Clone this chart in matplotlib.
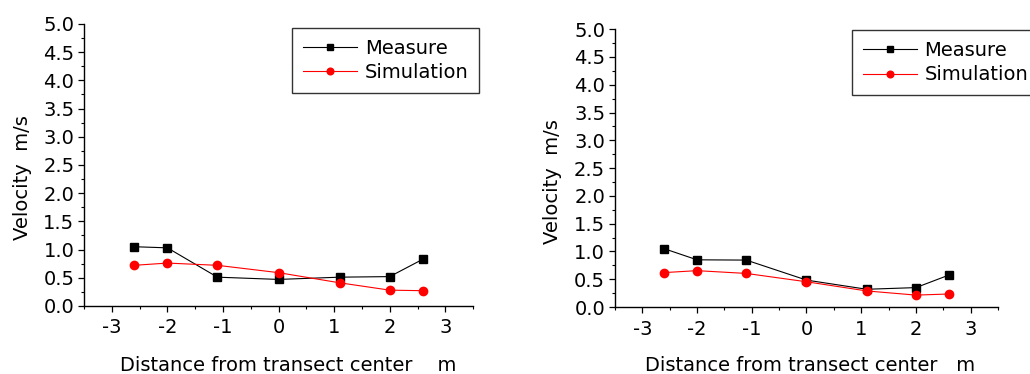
import matplotlib
matplotlib.use("Agg")
import matplotlib.pyplot as plt
from matplotlib.ticker import MultipleLocator, FormatStrFormatter

plt.rcParams['font.family'] = ['DejaVu Sans']

distance = [-2.6, -2.0, -1.1, 0.0, 1.1, 2.0, 2.6]
measure_left = [1.05, 1.03, 0.51, 0.47, 0.51, 0.52, 0.83]
simulation_left = [0.72, 0.76, 0.72, 0.59, 0.41, 0.28, 0.27]
measure_right = [1.05, 0.85, 0.845, 0.485, 0.32, 0.35, 0.575]
simulation_right = [0.62, 0.655, 0.605, 0.455, 0.29, 0.215, 0.235]

fig = plt.figure(figsize=(10.30, 3.74), dpi=100)

panels = [
    dict(rect=[0.0816, 0.182, 0.3777, 0.754], m=measure_left, s=simulation_left,
         xlabel="Distance from transect center    m", leg=(0.535, 0.986),
         xl=(0.524, -0.230), yl=(-0.159, 0.454)),
    dict(rect=[0.597, 0.179, 0.372, 0.743], m=measure_right, s=simulation_right,
         xlabel="Distance from transect center   m", leg=(0.619, 0.996),
         xl=(0.509, -0.230), yl=(-0.162, 0.453)),
]

fs = 14
for p in panels:
    ax = fig.add_axes(p['rect'])
    ax.plot(distance, p['m'], color='black', lw=0.8, marker='s', ms=5.2,
            label='Measure')
    ax.plot(distance, p['s'], color='red', lw=0.8, marker='o', ms=6,
            label='Simulation')
    ax.set_xlim(-3.5, 3.5)
    ax.set_ylim(0, 5.0)
    ax.xaxis.set_major_locator(MultipleLocator(1))
    ax.xaxis.set_minor_locator(MultipleLocator(0.5))
    ax.yaxis.set_major_locator(MultipleLocator(0.5))
    ax.yaxis.set_minor_locator(MultipleLocator(0.25))
    ax.yaxis.set_major_formatter(FormatStrFormatter('%.1f'))
    ax.xaxis.set_major_formatter(FormatStrFormatter('%d'))
    for side in ['top', 'right']:
        ax.spines[side].set_visible(False)
    for side in ['left', 'bottom']:
        ax.spines[side].set_linewidth(1.0)
    ax.tick_params(axis='both', which='major', direction='out', length=4,
                   width=0.9, labelsize=fs)
    ax.tick_params(axis='both', which='minor', direction='out', length=2.5,
                   width=0.8)
    ax.tick_params(axis='x', which='major', pad=5)
    ax.tick_params(axis='y', which='major', pad=3)
    ax.set_xlabel(p['xlabel'], fontsize=fs)
    ax.xaxis.set_label_coords(*p['xl'])
    ax.xaxis.label.set_va('baseline')
    ax.set_ylabel("Velocity  m/s", fontsize=fs)
    ax.yaxis.set_label_coords(*p['yl'])
    ax.yaxis.label.set_va('center')
    leg = ax.legend(loc='upper left', bbox_to_anchor=p['leg'], fontsize=fs,
                    frameon=True, fancybox=False, edgecolor='black',
                    borderaxespad=0, handlelength=2.8, handletextpad=0.38,
                    labelspacing=0.28, borderpad=0.55, markerscale=0.8)
    leg.get_frame().set_linewidth(1.0)
    leg.set_clip_on(False)

fig.savefig("out.png", dpi=100)
